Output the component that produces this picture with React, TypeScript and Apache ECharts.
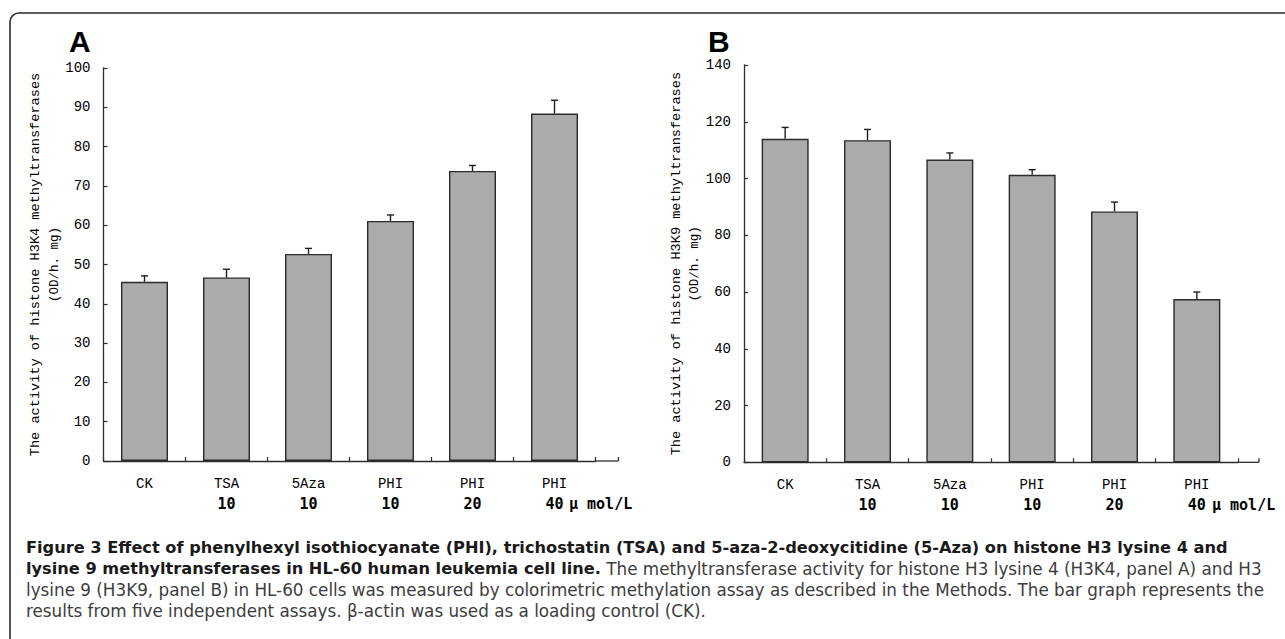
import React, { useEffect, useRef } from "react";
import * as echarts from "echarts";

// ---------- data ----------
const categories = ["CK", "TSA", "5Aza", "PHI", "PHI", "PHI"];
const doses = ["", "10", "10", "10", "20", "40"];
const doseUnit = "μ mol/L";

const h3k4Values = [45.6, 46.7, 52.7, 61.1, 73.8, 88.4];
const h3k4Errors = [1.5, 2.1, 1.4, 1.5, 1.4, 3.4];
const h3k9Values = [114.0, 113.5, 106.7, 101.3, 88.4, 57.5];
const h3k9Errors = [4.0, 3.8, 2.3, 1.8, 3.3, 2.5];

const yTicksA = [0, 10, 20, 30, 40, 50, 60, 70, 80, 90, 100];
const yTicksB = [0, 20, 40, 60, 80, 100, 120, 140];

const yTitleA = "The activity of histone H3K4 methyltransferases";
const yTitleB = "The activity of histone H3K9 methyltransferases";
const yUnit = "(OD/h. mg)";
const panelLabels = ["A", "B"];

const captionBold1 =
  "Figure 3 Effect of phenylhexyl isothiocyanate (PHI), trichostatin (TSA) and 5-aza-2-deoxycitidine (5-Aza) on histone H3 lysine 4 and";
const captionBold2 = "lysine 9 methyltransferases in HL-60 human leukemia cell line.";
const captionReg2 =
  " The methyltransferase activity for histone H3 lysine 4 (H3K4, panel A) and H3";
const captionReg3 =
  "lysine 9 (H3K9, panel B) in HL-60 cells was measured by colorimetric methylation assay as described in the Methods. The bar graph represents the";
const captionReg4 =
  "results from five independent assays. β-actin was used as a loading control (CK).";

// ---------- styling ----------
const AXIS_COLOR = "#2e2e2e";
const BAR_FILL = "#ababab";
const MONO = "'Liberation Mono', 'DejaVu Sans Mono', monospace";
const MONO_BOLD = "'DejaVu Sans Mono', 'Liberation Mono', monospace";
const CAPTION_FONT = "'DejaVu Sans', 'Open Sans', sans-serif";

const catValues = categories.map((c, i) => `${c}\n${doses[i]}`);

function xAxisFor(gridIndex: number) {
  return {
    type: "category",
    gridIndex,
    data: catValues,
    boundaryGap: true,
    axisLine: { show: true, lineStyle: { color: AXIS_COLOR, width: 1.3 } },
    axisTick: {
      show: true,
      inside: true,
      length: 4,
      interval: 0,
      lineStyle: { color: AXIS_COLOR, width: 1.2 },
    },
    axisLabel: {
      interval: 0,
      margin: 13,
      formatter: (v: string) => {
        const [n, d] = v.split("\n");
        return `{n|${n}}\n{d|${d ? d : " "}}`;
      },
      rich: {
        n: { fontFamily: MONO, fontSize: 14, lineHeight: 20, color: "#000" },
        d: {
          fontFamily: MONO_BOLD,
          fontWeight: "bold",
          fontSize: 15,
          lineHeight: 20,
          color: "#000",
        },
      },
    },
    splitLine: { show: false },
  };
}

function yAxisFor(gridIndex: number, ticks: number[], title: string) {
  return {
    type: "value",
    gridIndex,
    min: ticks[0],
    max: ticks[ticks.length - 1],
    interval: ticks[1] - ticks[0],
    name: `{t|${title}}\n{u|${yUnit}}`,
    nameLocation: "middle",
    nameRotate: 90,
    nameGap: 37,
    nameTextStyle: {
      rich: {
        t: { fontFamily: MONO, fontSize: 13.6, lineHeight: 19, color: "#000" },
        u: { fontFamily: MONO, fontSize: 12.5, lineHeight: 19, color: "#000" },
      },
    },
    axisLine: { show: true, lineStyle: { color: AXIS_COLOR, width: 1.3 } },
    axisTick: {
      show: true,
      inside: true,
      length: 4,
      lineStyle: { color: AXIS_COLOR, width: 1.2 },
    },
    axisLabel: {
      margin: 13,
      fontFamily: MONO,
      fontSize: 14,
      color: "#000",
    },
    splitLine: { show: false },
  };
}

function barSeries(idx: number, values: number[]) {
  return {
    type: "bar",
    xAxisIndex: idx,
    yAxisIndex: idx,
    data: values,
    barWidth: 47,
    itemStyle: { color: BAR_FILL, borderColor: "#2b2b2b", borderWidth: 1.4 },
    z: 2,
  };
}

function errorSeries(idx: number, values: number[], errors: number[]) {
  return {
    type: "custom",
    xAxisIndex: idx,
    yAxisIndex: idx,
    data: values.map((v, i) => [i, v, v + errors[i]]),
    encode: { x: 0, y: [1, 2] },
    z: 3,
    renderItem: (_params: any, api: any) => {
      const i = api.value(0);
      const base = api.coord([i, api.value(1)]);
      const top = api.coord([i, api.value(2)]);
      const style = { stroke: "#1e1e1e", lineWidth: 1.4 };
      return {
        type: "group",
        children: [
          {
            type: "line",
            shape: { x1: base[0], y1: base[1], x2: top[0], y2: top[1] },
            style,
          },
          {
            type: "line",
            shape: { x1: top[0] - 3.5, y1: top[1], x2: top[0] + 3.5, y2: top[1] },
            style,
          },
        ],
      };
    },
  };
}

const GRID_A = { left: 103.5, top: 68, width: 492, height: 393 };
const GRID_B = { left: 744, top: 65, width: 494, height: 397.3 };
const AXIS_END_A = 618.4;
const AXIS_END_B = 1259;

export default function App() {
  const ref = useRef<HTMLDivElement>(null);

  useEffect(() => {
    if (!ref.current) return;
    const chart = echarts.init(ref.current, undefined, { renderer: "svg" });

    const yA = GRID_A.top + GRID_A.height;
    const yB = GRID_B.top + GRID_B.height;
    const lineStyle = { stroke: AXIS_COLOR, lineWidth: 1.3 };

    chart.setOption({
      animation: false,
      backgroundColor: "#ffffff",
      grid: [
        { ...GRID_A, containLabel: false },
        { ...GRID_B, containLabel: false },
      ],
      xAxis: [xAxisFor(0), xAxisFor(1)],
      yAxis: [yAxisFor(0, yTicksA, yTitleA), yAxisFor(1, yTicksB, yTitleB)],
      series: [
        barSeries(0, h3k4Values),
        errorSeries(0, h3k4Values, h3k4Errors),
        barSeries(1, h3k9Values),
        errorSeries(1, h3k9Values, h3k9Errors),
      ],
      graphic: [
        {
          type: "rect",
          shape: { x: 10, y: 13, width: 1400, height: 900, r: 9 },
          style: { fill: "none", stroke: "#2a2a2a", lineWidth: 1.6 },
          silent: true,
        },
        // x-axis line continuation past the last category
        {
          type: "line",
          shape: { x1: GRID_A.left + GRID_A.width, y1: yA, x2: AXIS_END_A, y2: yA },
          style: lineStyle,
        },
        {
          type: "line",
          shape: { x1: AXIS_END_A, y1: yA, x2: AXIS_END_A, y2: yA - 4 },
          style: lineStyle,
        },
        {
          type: "line",
          shape: { x1: GRID_B.left + GRID_B.width, y1: yB, x2: AXIS_END_B, y2: yB },
          style: lineStyle,
        },
        {
          type: "line",
          shape: { x1: AXIS_END_B, y1: yB, x2: AXIS_END_B, y2: yB - 4 },
          style: lineStyle,
        },
        // panel letters
        {
          type: "text",
          x: 69,
          y: 41,
          style: {
            text: panelLabels[0],
            font: "bold 30px 'Liberation Sans', Arial, sans-serif",
            fill: "#000",
            verticalAlign: "middle",
          },
        },
        {
          type: "text",
          x: 708,
          y: 41,
          style: {
            text: panelLabels[1],
            font: "bold 30px 'Liberation Sans', Arial, sans-serif",
            fill: "#000",
            verticalAlign: "middle",
          },
        },
        // dose unit after the last dose
        {
          type: "text",
          x: 569,
          y: yA + 13 + 30,
          style: {
            text: doseUnit,
            font: `bold 15px ${MONO_BOLD}`,
            fill: "#000",
            verticalAlign: "middle",
          },
        },
        {
          type: "text",
          x: 1212,
          y: yB + 13 + 30,
          style: {
            text: doseUnit,
            font: `bold 15px ${MONO_BOLD}`,
            fill: "#000",
            verticalAlign: "middle",
          },
        },
        // caption
        {
          type: "text",
          x: 26,
          y: 537,
          style: {
            text: [
              `{b|${captionBold1}}`,
              `{b|${captionBold2}}{r|${captionReg2}}`,
              `{r|${captionReg3}}`,
              `{r|${captionReg4}}`,
            ].join("\n"),
            verticalAlign: "top",
            rich: {
              b: {
                fontFamily: CAPTION_FONT,
                fontWeight: "bold",
                fontSize: 16.2,
                lineHeight: 21,
                fill: "#1a1a1a",
              },
              r: {
                fontFamily: CAPTION_FONT,
                fontSize: 16.8,
                lineHeight: 21,
                fill: "#3d3d3d",
              },
            },
          },
        },
      ],
    });

    return () => chart.dispose();
  }, []);

  return (
    <div
      ref={ref}
      style={{ position: "fixed", left: 0, top: 0, width: 1285, height: 639, background: "#fff" }}
    />
  );
}
